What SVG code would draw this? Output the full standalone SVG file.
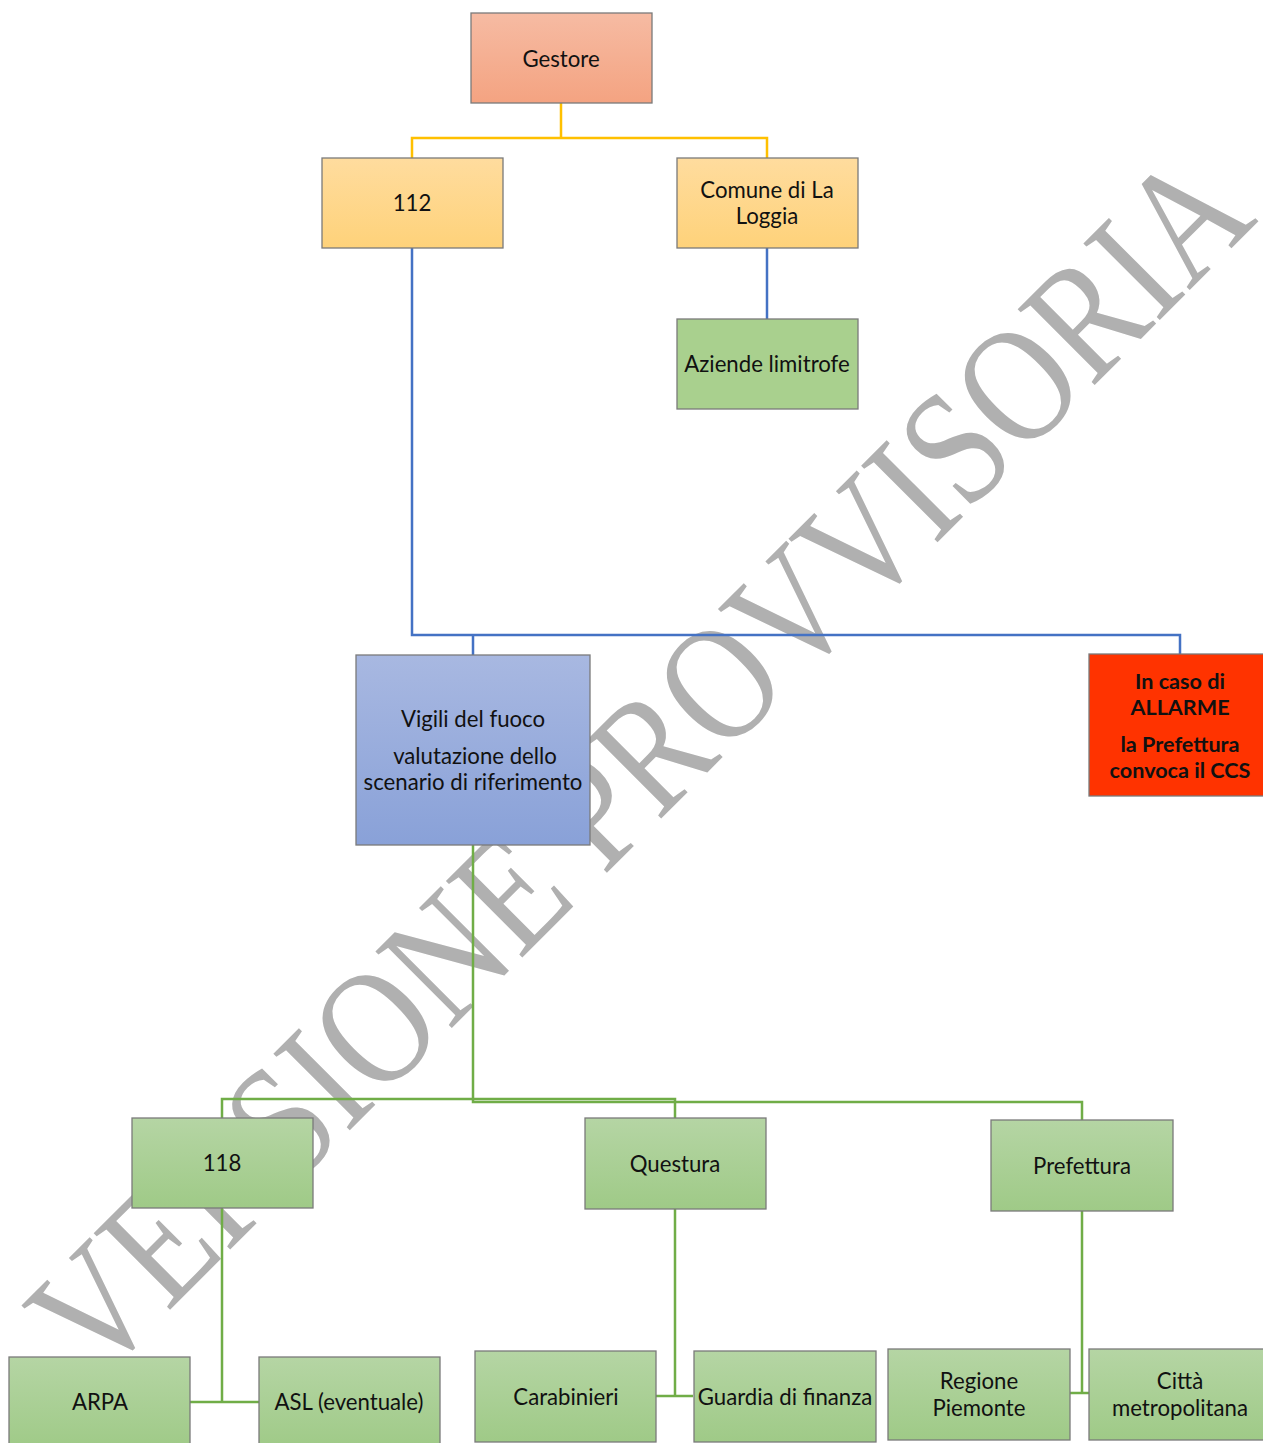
<svg xmlns="http://www.w3.org/2000/svg" width="1263" height="1443" viewBox="0 0 1263 1443">
  <defs>
    <linearGradient id="gOrange" x1="0" y1="0" x2="0" y2="1">
      <stop offset="0" stop-color="#f6bba3"/>
      <stop offset="1" stop-color="#f4a381"/>
    </linearGradient>
    <linearGradient id="gYellow" x1="0" y1="0" x2="0" y2="1">
      <stop offset="0" stop-color="#ffdc9e"/>
      <stop offset="1" stop-color="#fed27a"/>
    </linearGradient>
    <linearGradient id="gGreen" x1="0" y1="0" x2="0" y2="1">
      <stop offset="0" stop-color="#b5d5a4"/>
      <stop offset="1" stop-color="#9fca87"/>
    </linearGradient>
    <linearGradient id="gBlue" x1="0" y1="0" x2="0" y2="1">
      <stop offset="0" stop-color="#a8b8e1"/>
      <stop offset="1" stop-color="#89a1d8"/>
    </linearGradient>
    <style>
      .box { stroke: #7a7a7a; stroke-width: 1.3; }
      .orange { fill: url(#gOrange); }
      .yellow { fill: url(#gYellow); }
      .green { fill: url(#gGreen); }
      .flatgreen { fill: #a9d08e; }
      .blue { fill: url(#gBlue); }
      .red { fill: #ff3300; }
      .lbl { font-family: Lato, "Liberation Sans", sans-serif; font-size: 22.2px; fill: #111; text-anchor: middle; }
      .bold { font-weight: bold; font-size: 21.6px; }
      .conn { fill: none; stroke-width: 2.5; }
      .cy { stroke: #ffc000; }
      .cb { stroke: #4472c4; }
      .cg { stroke: #70ad47; }
      .wm { font-family: "Liberation Serif", "Times New Roman", serif; font-size: 165px; fill: #b0b0b0; }
    </style>
  </defs>
  <rect width="1263" height="1443" fill="#ffffff"/>

  <g id="watermark">
    <text class="wm" transform="translate(96.8,1383) rotate(-45)" textLength="1644" lengthAdjust="spacingAndGlyphs">VERSIONE PROVVISORIA</text>
  </g>

  <g id="connectors">
    <path class="conn cy" d="M561,103 V138 H412 V158 M561,138 H767 V158"/>
    <path class="conn cb" d="M767,248 V319"/>
    <path class="conn cb" d="M412,248 V635 H1180 V654 M473,635 V655"/>
    <path class="conn cg" d="M473,845 V1099 H222 V1118 M473,1099 H675 V1118"/>
    <path class="conn cg" d="M473,1099 V1102 H1082 V1120"/>
    <path class="conn cg" d="M222,1208 V1402 M190,1402 H259"/>
    <path class="conn cg" d="M675,1209 V1396 M656,1396 H693"/>
    <path class="conn cg" d="M1082,1211 V1393 M1070,1393 H1089"/>
  </g>

  <g id="node-gestore">
    <rect class="box orange" x="471" y="13" width="181" height="90"/>
    <text class="lbl" x="561" y="67">Gestore</text>
  </g>
  <g id="node-112">
    <rect class="box yellow" x="322" y="158" width="181" height="90"/>
    <text class="lbl" x="412" y="211">112</text>
  </g>
  <g id="node-comune">
    <rect class="box yellow" x="677" y="158" width="181" height="90"/>
    <text class="lbl" x="767" y="198">Comune di La</text>
    <text class="lbl" x="767" y="224">Loggia</text>
  </g>
  <g id="node-aziende">
    <rect class="box flatgreen" x="677" y="319" width="181" height="90"/>
    <text class="lbl" x="767" y="372">Aziende limitrofe</text>
  </g>
  <g id="node-vigili">
    <rect class="box blue" x="356" y="655" width="234" height="190"/>
    <text class="lbl" x="473" y="727">Vigili del fuoco</text>
    <text class="lbl" x="475" y="764">valutazione dello</text>
    <text class="lbl" x="473" y="790">scenario di riferimento</text>
  </g>
  <g id="node-allarme">
    <rect class="box red" x="1089" y="654" width="183" height="142"/>
    <text class="lbl bold" x="1180" y="689">In caso di</text>
    <text class="lbl bold" x="1180" y="715">ALLARME</text>
    <text class="lbl bold" x="1180" y="752">la Prefettura</text>
    <text class="lbl bold" x="1180" y="778">convoca il CCS</text>
  </g>
  <g id="node-118">
    <rect class="box green" x="132" y="1118" width="181" height="90"/>
    <text class="lbl" x="222" y="1171">118</text>
  </g>
  <g id="node-questura">
    <rect class="box green" x="585" y="1118" width="181" height="91"/>
    <text class="lbl" x="675" y="1172">Questura</text>
  </g>
  <g id="node-prefettura">
    <rect class="box green" x="991" y="1120" width="182" height="91"/>
    <text class="lbl" x="1082" y="1174">Prefettura</text>
  </g>
  <g id="node-arpa">
    <rect class="box green" x="9" y="1357" width="181" height="92"/>
    <text class="lbl" x="100" y="1410">ARPA</text>
  </g>
  <g id="node-asl">
    <rect class="box green" x="259" y="1357" width="181" height="92"/>
    <text class="lbl" x="349" y="1410">ASL (eventuale)</text>
  </g>
  <g id="node-carabinieri">
    <rect class="box green" x="475" y="1351" width="181" height="91"/>
    <text class="lbl" x="566" y="1405">Carabinieri</text>
  </g>
  <g id="node-guardia">
    <rect class="box green" x="694" y="1351" width="182" height="91"/>
    <text class="lbl" x="785" y="1405">Guardia di finanza</text>
  </g>
  <g id="node-regione">
    <rect class="box green" x="888" y="1349" width="182" height="91"/>
    <text class="lbl" x="979" y="1389">Regione</text>
    <text class="lbl" x="979" y="1416">Piemonte</text>
  </g>
  <g id="node-citta">
    <rect class="box green" x="1089" y="1349" width="183" height="91"/>
    <text class="lbl" x="1180" y="1389">Città</text>
    <text class="lbl" x="1180" y="1416">metropolitana</text>
  </g>
</svg>
